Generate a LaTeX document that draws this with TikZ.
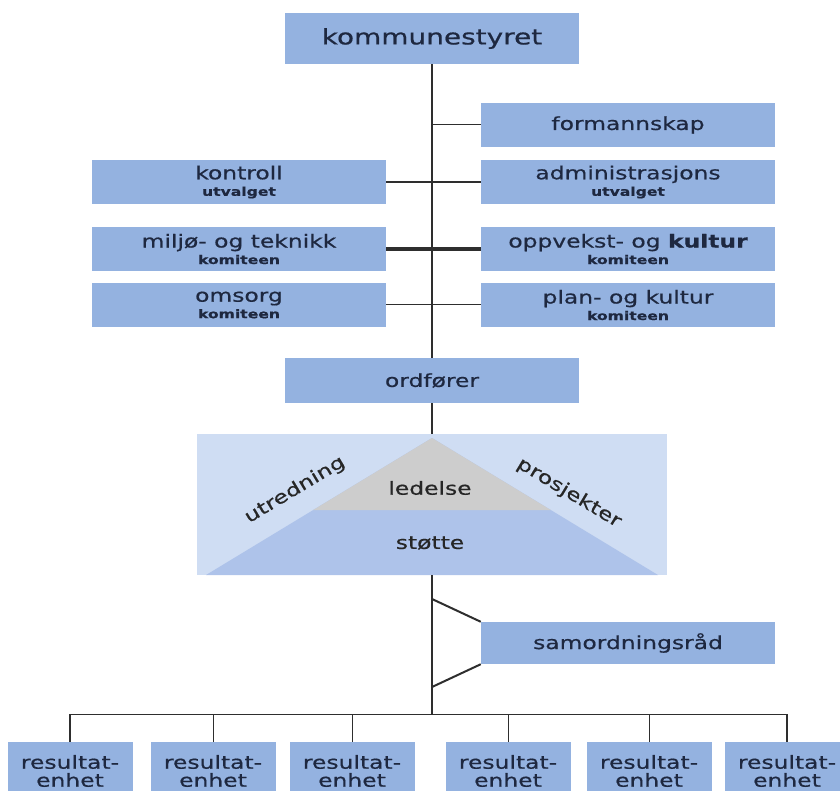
\documentclass[tikz,border=0pt]{standalone}
\usepackage{fontspec}
\setmainfont{DejaVu Sans}[FakeStretch=1.3,FakeBold=0.6]
\usetikzlibrary{calc}

\definecolor{boxblue}{HTML}{94B2E0}
\definecolor{paleblue}{HTML}{CFDDF3}
\definecolor{midblue}{HTML}{AEC3EA}
\definecolor{pyrgray}{HTML}{CDCDCD}
\definecolor{inkblue}{HTML}{1E2840}
\definecolor{wire}{HTML}{2E2E2E}

\newcommand{\subline}[1]{{\fontsize{12}{13}\selectfont\bfseries #1}}

\begin{document}
\begin{tikzpicture}[x=1pt,y=-1pt,
        orgbox/.style={fill=boxblue,inner sep=0pt,text=inkblue,align=center,
                       font=\fontsize{18}{18}\selectfont},
        widebox/.style={orgbox,minimum width=294pt,minimum height=44pt},
        unitbox/.style={orgbox,minimum width=125pt,minimum height=58pt},
        pyrtext/.style={text=black!85,font=\fontsize{18}{18}\selectfont},
        spine/.style={draw=wire,line width=1.4pt},
        link/.style={draw=wire,line width=1pt}]
        \useasboundingbox (0,0) rectangle (840,791);
        \clip (0,0) rectangle (840,791);

        \node (kommunestyret)  at (432,38.5) [widebox,minimum height=51pt,font=\fontsize{21.5}{22}\selectfont] {kommunestyret};
        \node (formannskap)    at (628,125)  [widebox] {formannskap};
        \node (kontroll)       at (239,182)  [widebox] {kontroll\\[-1.5pt]\subline{utvalget}};
        \node (administrasjon) at (628,182)  [widebox] {administrasjons\\[-1.5pt]\subline{utvalget}};
        \node (miljo)          at (239,249)  [widebox] {miljø- og teknikk\\[-1.5pt]\subline{komiteen}};
        \node (oppvekst)       at (628,249)  [widebox] {oppvekst- og \textbf{kultur}\\[-1.5pt]\subline{komiteen}};
        \node (omsorg)         at (239,305)  [widebox] {omsorg\\[-1.5pt]\subline{komiteen}};
        \node (plan)           at (628,305)  [widebox] {plan- og kultur\\[-1.5pt]\subline{komiteen}};
        \node (ordforer)       at (432,380.5) [widebox,minimum height=45pt] {ordfører};

        % Pyramid of the administration
        \node (frame) at (432,504.5) [fill=paleblue,inner sep=0pt,minimum width=470pt,minimum height=141pt] {};
        \coordinate (apex)  at (432,438);
        \coordinate (baseL) at (206,575);
        \coordinate (baseR) at (658,575);
        \fill[midblue] (apex) -- (baseL) -- (baseR) -- cycle;
        \fill[pyrgray] (apex) -- ($(apex)!0.526!(baseL)$) -- ($(apex)!0.526!(baseR)$) -- cycle;
        \node (ledelse)    at (430,488) [pyrtext] {ledelse};
        \node (stotte)     at (430,543) [pyrtext] {støtte};
        \node (utredning)  at (295,490) [pyrtext,rotate=31] {utredning};
        \node (prosjekter) at (569,493) [pyrtext,rotate=-31] {prosjekter};

        \node (samordning) at (628,643) [widebox,minimum height=42pt] {samordningsråd};

        \node (unitA) at (70,771)  [unitbox] {resultat-\\enhet};
        \node (unitB) at (213,771) [unitbox] {resultat-\\enhet};
        \node (unitC) at (352,771) [unitbox] {resultat-\\enhet};
        \node (unitD) at (508,771) [unitbox] {resultat-\\enhet};
        \node (unitE) at (649,771) [unitbox] {resultat-\\enhet};
        \node (unitF) at (787,771) [unitbox] {resultat-\\enhet};

        % Vertical spine
        \coordinate (bar)   at (432,714);
        \coordinate (samUp) at (432,599);
        \coordinate (samDn) at (432,687);
        \draw[spine] (kommunestyret.south) -- (ordforer.north);
        \draw[spine] (ordforer.south) -- (frame.north);
        \draw[spine] (frame.south) -- (bar);

        % Committee links
        \draw[link] (formannskap.west) -- (formannskap.west -| kommunestyret.south);
        \draw[link,line width=2.2pt] (kontroll.east) -- (administrasjon.west);
        \draw[link,line width=3.2pt] (miljo.east) -- (oppvekst.west);
        \draw[link] (omsorg.east) -- (plan.west);

        % Coordination council
        \draw[link,line width=2pt] (samUp) -- (samordning.north west);
        \draw[link,line width=2pt] (samDn) -- (samordning.south west);

        % Result units
        \draw[link] (unitA.north |- bar) -- (unitF.north |- bar);
        \foreach \u in {unitB,unitC,unitD,unitE}
            \draw[link] (\u.north |- bar) -- (\u.north);
        \foreach \u in {unitA,unitF}
            \draw[link,line width=2.4pt] (\u.north |- bar) -- (\u.north);
    \end{tikzpicture}
\end{document}
